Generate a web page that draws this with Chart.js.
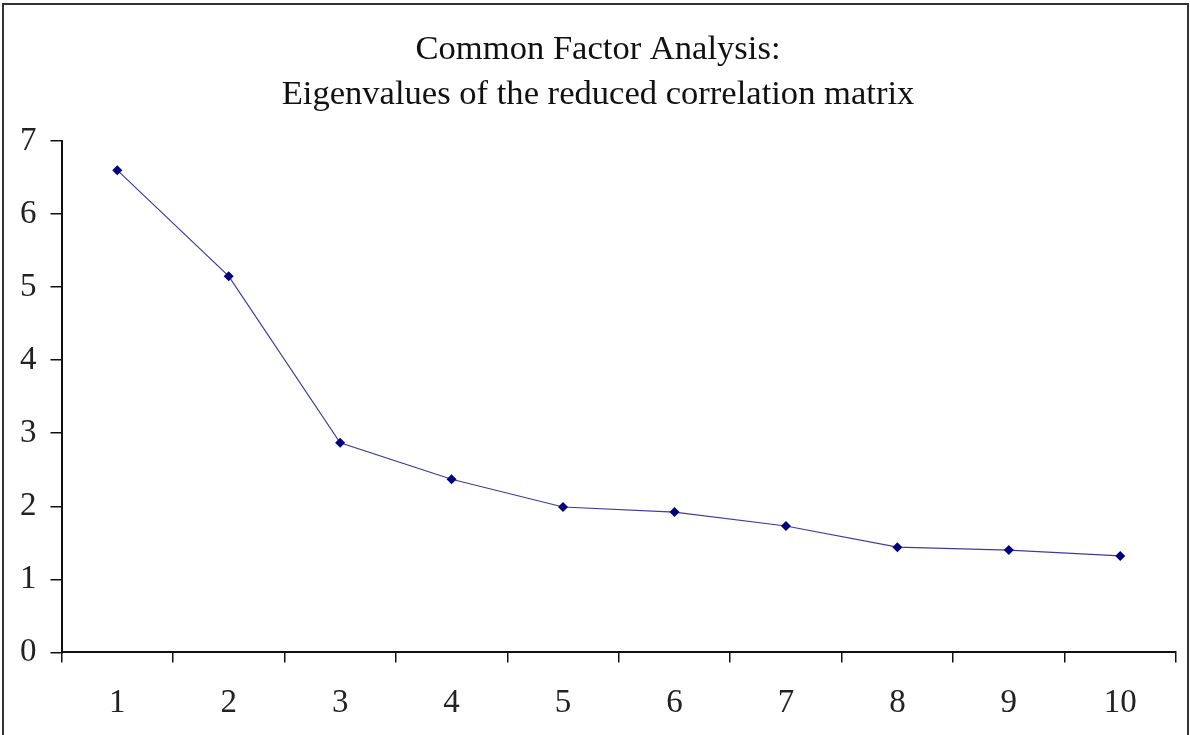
<!DOCTYPE html>
<html>
<head>
<meta charset="utf-8">
<script src="https://cdn.jsdelivr.net/npm/chart.js@4/dist/chart.umd.min.js"></script>
<style>
  body { margin: 0; background: #fff; overflow: hidden; }
  #frame {
    position: absolute; left: 2px; top: 3px;
    width: 1183px; height: 760px;
    border: 2px solid #333;
  }
  /* a little taller than the window so the x labels sit where they should */
  #wrap { position: absolute; left: 0; top: 0; width: 1190px; height: 744px; }
</style>
</head>
<body>
<div id="frame"></div>
<div id="wrap"><canvas id="graph"></canvas></div>
<script>
  const factors = ['1', '2', '3', '4', '5', '6', '7', '8', '9', '10'];
  const eigenvalues = [6.60, 5.15, 2.87, 2.37, 1.99, 1.92, 1.73, 1.44, 1.40, 1.32];
  const titleLines = ['Common Factor Analysis:', 'Eigenvalues of the reduced correlation matrix'];

  Chart.defaults.font.family = '"Liberation Serif", "DejaVu Serif", serif';
  Chart.defaults.color = '#222';

  const ctx = document.getElementById('graph');

  new Chart(ctx, {
    type: 'line',
    data: {
      labels: factors,
      datasets: [{
        label: 'Eigenvalue',
        data: eigenvalues,
        borderColor: '#3c3c9c',
        borderWidth: 1.2,
        pointStyle: 'rectRot',
        pointRadius: 5,
        pointBackgroundColor: '#000080',
        pointBorderColor: '#000080',
        pointBorderWidth: 0,
        tension: 0
      }]
    },
    options: {
      responsive: true,
      maintainAspectRatio: false,
      animation: false,
      layout: { padding: { left: 20, right: 14, top: 27, bottom: 0 } },
      plugins: {
        legend: { display: false },
        tooltip: { enabled: false },
        title: {
          display: true,
          text: titleLines,
          color: '#111',
          font: { size: 34.6, weight: 'normal', lineHeight: 1.3 },
          padding: { top: 0, bottom: 24 }
        }
      },
      scales: {
        x: {
          offset: true,
          grid: {
            display: true,
            offset: true,
            drawOnChartArea: false,
            drawTicks: true,
            tickLength: 10,
            color: '#111',
            lineWidth: 1.5
          },
          border: { display: true, color: '#111', width: 2 },
          ticks: { font: { size: 33 }, padding: 21, maxRotation: 0 }
        },
        y: {
          min: 0,
          max: 7,
          ticks: { stepSize: 1, font: { size: 33 }, padding: 7, crossAlign: 'far' },
          grid: {
            drawOnChartArea: false,
            drawTicks: true,
            tickLength: 11,
            color: '#111',
            lineWidth: 1.5
          },
          border: { display: true, color: '#111', width: 2 }
        }
      }
    }
  });
</script>
</body>
</html>
